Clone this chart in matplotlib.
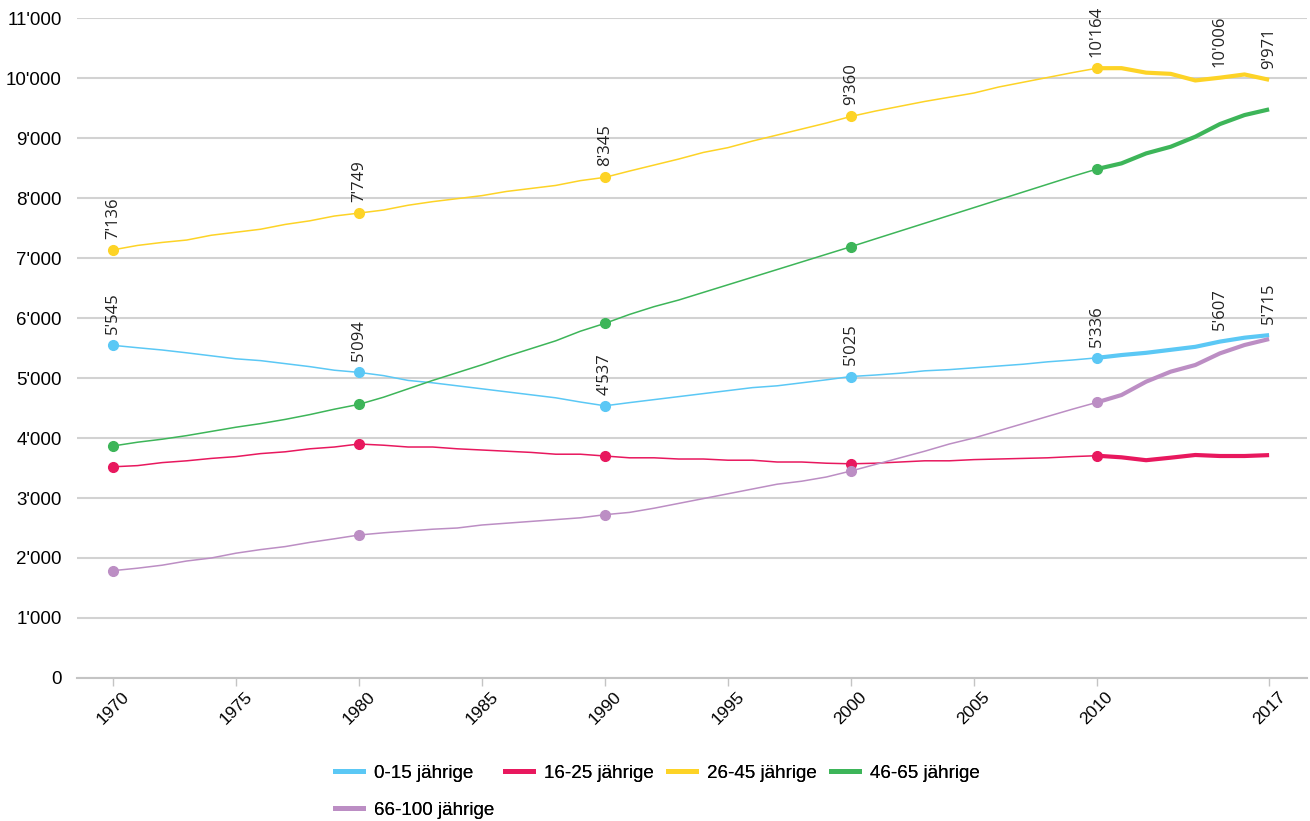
import matplotlib
matplotlib.use("Agg")
from matplotlib import pyplot as plt
from matplotlib.ticker import FuncFormatter

# Data
years = list(range(1970, 2018))

age_0_15 = [5545, 5505, 5467, 5420, 5370, 5320, 5290, 5240, 5190, 5130,
            5094, 5040, 4960, 4920, 4870, 4820, 4770, 4720, 4670, 4600,
            4537, 4590, 4640, 4690, 4740, 4790, 4840, 4870, 4920, 4970,
            5025, 5050, 5080, 5120, 5140, 5170, 5200, 5230, 5270, 5300,
            5336, 5383, 5420, 5470, 5520, 5607, 5672, 5715]
age_16_25 = [3520, 3540, 3590, 3620, 3660, 3690, 3740, 3770, 3820, 3850,
             3900, 3880, 3850, 3850, 3820, 3800, 3780, 3760, 3730, 3730,
             3700, 3670, 3670, 3650, 3650, 3630, 3630, 3600, 3600, 3580,
             3570, 3580, 3600, 3620, 3620, 3640, 3650, 3660, 3670, 3690,
             3705, 3678, 3630, 3672, 3717, 3700, 3700, 3715]
age_26_45 = [7136, 7210, 7260, 7300, 7380, 7430, 7480, 7560, 7620, 7700,
             7749, 7800, 7880, 7940, 7990, 8040, 8110, 8160, 8210, 8290,
             8345, 8450, 8550, 8650, 8760, 8840, 8950, 9050, 9150, 9250,
             9360, 9450, 9530, 9610, 9680, 9750, 9850, 9930, 10010, 10090,
             10164, 10165, 10090, 10070, 9960, 10006, 10060, 9971]
age_46_65 = [3867, 3930, 3980, 4040, 4110, 4180, 4240, 4310, 4390, 4480,
             4561, 4680, 4820, 4960, 5090, 5220, 5360, 5490, 5620, 5780,
             5911, 6060, 6190, 6300, 6427, 6554, 6681, 6808, 6935, 7062,
             7189, 7320, 7450, 7580, 7710, 7840, 7970, 8100, 8230, 8360,
             8483, 8578, 8744, 8855, 9022, 9233, 9383, 9478]
age_66_100 = [1789, 1830, 1880, 1950, 2000, 2080, 2140, 2190, 2260, 2320,
              2383, 2420, 2450, 2480, 2500, 2550, 2580, 2610, 2640, 2670,
              2722, 2760, 2830, 2910, 2990, 3070, 3150, 3230, 3280, 3350,
              3450, 3560, 3670, 3780, 3900, 4000, 4120, 4240, 4360, 4480,
              4594, 4717, 4939, 5106, 5217, 5411, 5550, 5650]

series = [age_0_15, age_16_25, age_26_45, age_46_65, age_66_100]
names = ["0-15 jährige", "16-25 jährige", "26-45 jährige", "46-65 jährige", "66-100 jährige"]
colors = ["#5BC8F5", "#E8185E", "#FDD326", "#3DB559", "#BC8EC4"]
labelled = [True, False, True, False, False]

marker_years = [1970, 1980, 1990, 2000, 2010]
label_years = [1970, 1980, 1990, 2000, 2010, 2015, 2017]
xticks = [1970, 1975, 1980, 1985, 1990, 1995, 2000, 2005, 2010, 2017]

def fmt(v):
    return f"{int(v):,}".replace(",", "'")

fig = plt.figure(figsize=(13.1, 8.21), dpi=100)
ax = fig.add_axes([0.0588, 0.1742, 0.9389, 0.8038])

split = years.index(2010)
handles = []
for vals, name, col, lab in zip(series, names, colors, labelled):
    ax.plot(years[:split + 1], vals[:split + 1], color=col, lw=1.1, zorder=3)
    ax.plot(years[split:], vals[split:], color=col, lw=3.0, zorder=3,
            solid_capstyle='butt')
    mv = [vals[years.index(y)] for y in marker_years]
    ax.plot(marker_years, mv, 'o', color=col, ms=7, zorder=4)
    h, = ax.plot([], [], color=col, lw=3.5, label=name)
    handles.append(h)
    if lab:
        for y in label_years:
            v = vals[years.index(y)]
            ax.annotate(fmt(v), (y, v), xytext=(0, 8), textcoords='offset points',
                        rotation=90, ha='center', va='bottom', fontsize=12,
                        family='Open Sans', color='#222222', zorder=5)

ax.set_xlim(1968.54, 2018.54)
ax.set_ylim(0, 11000)
ax.set_yticks(range(0, 11001, 1000))
ax.yaxis.set_major_formatter(FuncFormatter(lambda v, p: fmt(v)))
ax.set_xticks(xticks)
ax.set_xticklabels([str(x) for x in xticks], rotation=45, ha='center')
ax.grid(axis='y', color='#d2d2d2', lw=1.5, zorder=0)
ax.set_axisbelow(True)
for s in ['left', 'right', 'top']:
    ax.spines[s].set_visible(False)
ax.spines['bottom'].set_color('#c4c4c4')
ax.spines['bottom'].set_linewidth(1.5)
ax.tick_params(axis='y', length=0, pad=11, labelsize=13.5)
ax.tick_params(axis='x', length=6, width=1, color='#c4c4c4', pad=2, labelsize=12.5)
for t in ax.get_xticklabels() + ax.get_yticklabels():
    t.set_family('Liberation Sans')

# legend: one entry per slot, first row four slots, second row one slot
leg_x = [335, 505, 668, 831, 335]
leg_y = [773, 773, 773, 773, 810]
for h, name, lx, ly in zip(handles, names, leg_x, leg_y):
    lg = fig.legend([h], [name], loc='center left',
                    bbox_to_anchor=(lx / 1310, 1 - ly / 821), frameon=False,
                    prop={'family': 'Liberation Sans', 'size': 13.5},
                    handlelength=1.5, handletextpad=0.6,
                    borderpad=0, borderaxespad=0)
    fig.add_artist(lg)

plt.savefig("out.png", dpi=100)
